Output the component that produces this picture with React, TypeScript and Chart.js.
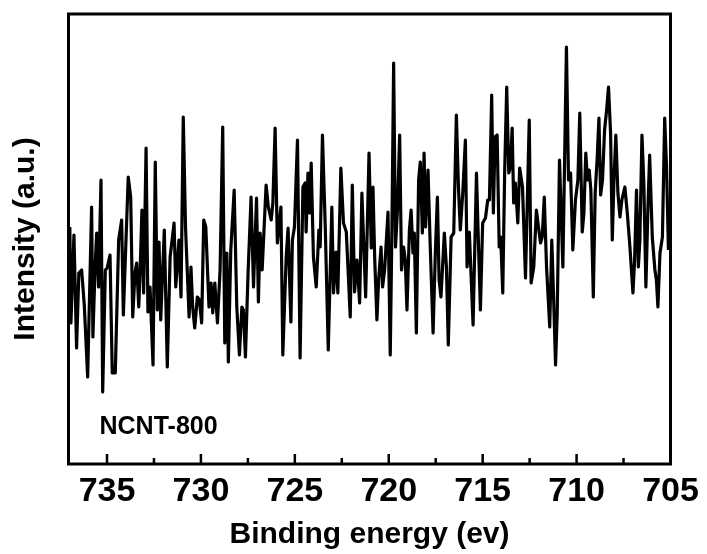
import React, { useEffect, useRef } from "react";
import { Chart, registerables } from "chart.js";

Chart.register(...registerables);

// Binding energy (eV), high to low
const energies = [
  736.98, 736.92, 736.76, 736.62, 736.5, 736.35, 736.21, 736.03, 735.82, 735.75,
  735.64, 735.55, 735.45, 735.32, 735.23, 735.09, 734.99, 734.84, 734.72, 734.56,
  734.38, 734.22, 734.13, 733.87, 733.74, 733.63, 733.51, 733.42, 733.31, 733.24,
  733.14, 733.05, 732.92, 732.82, 732.71, 732.55, 732.43, 732.32, 732.23, 732.14,
  731.95, 731.79,
  731.64, 731.43, 731.34, 731.17, 731.06, 730.94, 730.82, 730.63, 730.53, 730.44,
  730.33, 730.19, 730.08, 729.96, 729.85, 729.74, 729.57, 729.46, 729.37, 729.26,
  729.12, 728.98, 728.84, 728.73, 728.62, 728.54, 728.41, 728.23, 728.09, 727.95,
  727.82, 727.74, 727.63, 727.49, 727.33, 727.2, 727.04, 726.94, 726.85, 726.74,
  726.53, 726.41,
  726.26, 726.17, 726.05, 725.93, 725.74, 725.64, 725.46, 725.36, 725.21, 725.13,
  725.02, 724.86, 724.72, 724.57, 724.45, 724.4, 724.3, 724.22, 724.13, 724.01,
  723.86, 723.72, 723.65, 723.53, 723.38, 723.22, 723.03, 722.94, 722.81, 722.71,
  722.55, 722.41, 722.26, 722.05, 721.94, 721.82, 721.69, 721.55, 721.43, 721.23,
  721.05,
  720.93, 720.84, 720.75, 720.63, 720.54, 720.41, 720.33, 720.22, 720.04, 719.92,
  719.83, 719.74, 719.64, 719.53, 719.42, 719.32, 719.21, 719.12, 719.03, 718.9,
  718.81, 718.71, 718.64, 718.53, 718.41, 718.32, 718.21, 718.12, 718.04, 717.91,
  717.79, 717.64, 717.52, 717.41, 717.32, 717.22, 717.04, 716.93, 716.83, 716.68,
  716.54, 716.4, 716.29, 716.19, 716.06, 715.92, 715.83, 715.71,
  715.51, 715.33, 715.23, 715.12, 715.0, 714.85, 714.73, 714.64, 714.52, 714.43,
  714.34, 714.23, 714.12, 714.04, 713.93, 713.83, 713.72, 713.61, 713.52, 713.43,
  713.35, 713.26, 713.13, 713.03, 712.88, 712.72, 712.52, 712.42, 712.28, 712.14,
  712.03, 711.92, 711.83, 711.72, 711.6, 711.43, 711.32, 711.23, 711.12, 711.03,
  710.91, 710.73, 710.54, 710.43,
  710.32, 710.2, 710.06, 709.93, 709.83, 709.7, 709.61, 709.51, 709.42, 709.33,
  709.24, 709.11, 709.01, 708.9, 708.81, 708.72, 708.62, 708.51, 708.4, 708.3,
  708.19, 708.1, 708.01, 707.91, 707.8, 707.69, 707.59, 707.43, 707.3, 707.16,
  707.0, 706.91, 706.81, 706.71, 706.63, 706.52, 706.42, 706.31, 706.2, 706.11,
  705.97, 705.83, 705.75, 705.67, 705.56, 705.43, 705.31, 705.21, 705.11,
];

// Intensity (a.u.)
const intensities = [
  237, 141, 229, 116, 191, 194, 159, 87, 257, 127,
  194, 231, 177, 284, 72, 194, 196, 209, 91, 91,
  224, 244, 149, 287, 267, 147, 191, 201, 157, 191,
  254, 171, 316, 152, 177, 99, 302, 154, 222, 144,
  234, 97,
  207, 241, 177, 224, 167, 347, 237, 147, 197, 157,
  136, 167, 164, 141, 244, 237, 157, 181, 151, 181,
  141, 194, 337, 121, 211, 102, 214, 274, 157, 109,
  157, 154, 107, 191, 267, 177, 266, 162, 231, 194,
  279, 257,
  244, 261, 336, 221, 257, 109, 207, 236, 142, 224,
  237, 324, 106, 277, 281, 232, 291, 251, 301, 207,
  177, 234, 217, 329, 237, 114, 257, 171, 212, 171,
  296, 241, 232, 147, 279, 172, 204, 161, 271, 167,
  311,
  216, 277, 207, 144, 184, 217, 177, 194, 252, 109,
  237, 401, 217, 257, 329, 194, 217, 204, 154, 234,
  254, 211, 231, 131, 284, 302, 231, 311, 237, 294,
  217, 131, 211, 267, 184, 167, 231, 197, 119, 227,
  231, 349, 277, 234, 271, 324, 197, 232,
  139, 291, 224, 154, 241, 246, 264, 264, 369, 251,
  327, 329, 217, 227, 171, 291, 377, 291, 297, 336,
  261, 281, 241, 296, 277, 186, 344, 181, 197, 254,
  237, 221, 227, 267, 197, 137, 224, 171, 99, 151,
  304, 197, 417, 284,
  291, 214, 264, 284, 351, 232, 251, 311, 284, 294,
  274, 167, 271, 307, 346, 269, 284, 334, 354, 377,
  331, 224, 284, 329, 271, 247, 264, 277, 251, 217,
  171, 204, 274, 197, 224, 329, 281, 177, 257, 309,
  227, 194, 184, 157, 211, 227, 346, 297, 214,
];

const majorTicks = [735, 730, 725, 720, 715, 710, 705];
const minorTicks = [732.5, 727.5, 722.5, 717.5, 712.5, 707.5];
const xMin = 705;
const xMax = 737.05;
const yMin = 0;
const yMax = 450;
const xTitle = "Binding energy (ev)";
const yTitle = "Intensity (a.u.)";
const sampleLabel = "NCNT-800";

const FONT = '"Liberation Sans", Arial, Helvetica, sans-serif';

export default function App() {
  const ref = useRef<HTMLCanvasElement>(null);

  useEffect(() => {
    const canvas = ref.current;
    if (!canvas) return;

    const framePlugin = {
      id: "frameAndTicks",
      afterDraw(chart: any) {
        const { ctx, chartArea } = chart;
        const xs = chart.scales.x;
        const { left, right, top, bottom } = chartArea;
        ctx.save();
        ctx.strokeStyle = "#000";
        ctx.lineCap = "butt";
        ctx.lineWidth = 2.5;
        ctx.beginPath();
        majorTicks.forEach((v) => {
          const px = xs.getPixelForValue(v);
          ctx.moveTo(px, bottom);
          ctx.lineTo(px, bottom - 10);
        });
        minorTicks.forEach((v) => {
          const px = xs.getPixelForValue(v);
          ctx.moveTo(px, bottom);
          ctx.lineTo(px, bottom - 6);
        });
        ctx.stroke();
        ctx.lineWidth = 3;
        ctx.lineJoin = "miter";
        ctx.strokeRect(left, top, right - left, bottom - top);
        ctx.fillStyle = "#000";
        ctx.font = `bold 25px ${FONT}`;
        ctx.textBaseline = "alphabetic";
        ctx.textAlign = "left";
        ctx.fillText(sampleLabel, left + 31, 434);
        ctx.restore();
      },
    };

    const chart = new Chart(canvas, {
      type: "line",
      data: {
        datasets: [
          {
            data: energies.map((e, i) => ({ x: e, y: intensities[i] })),
            borderColor: "#000",
            borderWidth: 3.2,
            pointRadius: 0,
            tension: 0,
            borderJoinStyle: "round",
            fill: false,
          },
        ],
      },
      options: {
        animation: false,
        responsive: false,
        devicePixelRatio: 1,
        layout: { padding: { top: 14, right: 36.5, left: 0, bottom: 0 } },
        plugins: { legend: { display: false }, tooltip: { enabled: false } },
        scales: {
          x: {
            type: "linear",
            reverse: true,
            min: xMin,
            max: xMax,
            afterFit: (s: any) => {
              s.height = 90;
            },
            afterBuildTicks: (s: any) => {
              s.ticks = majorTicks.map((v) => ({ value: v }));
            },
            grid: { display: false, drawTicks: false },
            border: { display: false },
            ticks: {
              color: "#000",
              font: { family: FONT, size: 34, weight: "bold" },
              padding: 7,
              maxRotation: 0,
              autoSkip: false,
            },
            title: {
              display: true,
              text: xTitle,
              color: "#000",
              font: { family: FONT, size: 30, weight: "bold" },
              padding: { top: 0, bottom: 1 },
            },
          },
          y: {
            type: "linear",
            min: yMin,
            max: yMax,
            afterFit: (s: any) => {
              s.width = 68.5;
            },
            grid: { display: false, drawTicks: false },
            border: { display: false },
            ticks: { display: false },
            title: {
              display: true,
              text: yTitle,
              color: "#000",
              font: { family: FONT, size: 30, weight: "bold" },
              padding: { top: 8, bottom: 0 },
            },
          },
        },
      },
      plugins: [framePlugin],
    } as any);

    return () => chart.destroy();
  }, []);

  return (
    <div
      style={{
        position: "absolute",
        left: 0,
        top: 0,
        width: 707,
        height: 554,
        background: "#fff",
      }}
    >
      <canvas ref={ref} width={707} height={554} style={{ display: "block" }} />
    </div>
  );
}
